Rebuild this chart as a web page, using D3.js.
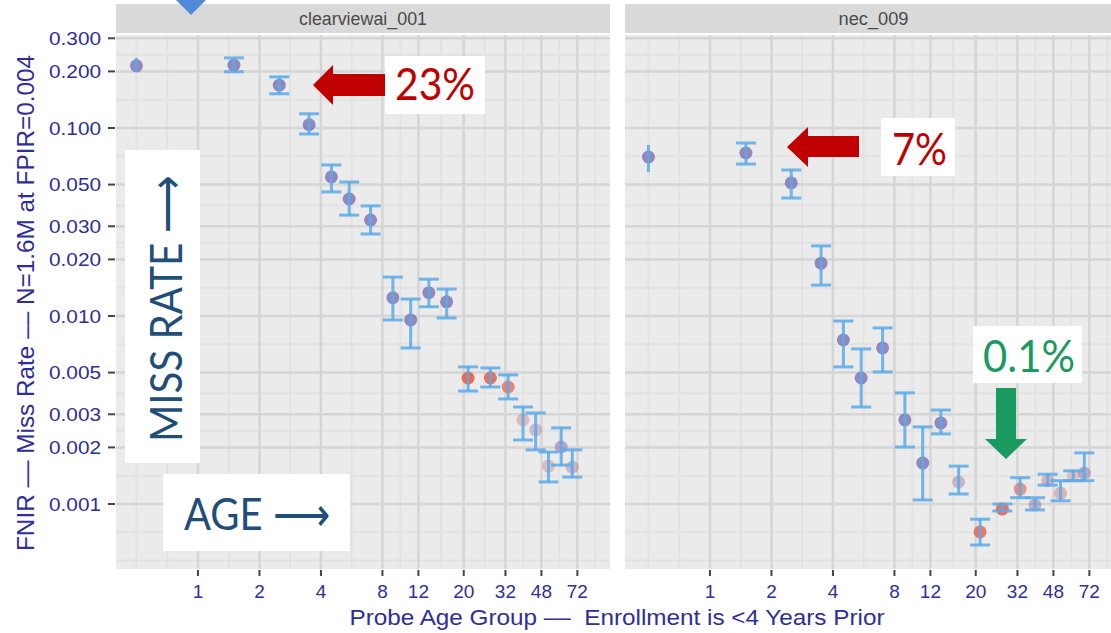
<!DOCTYPE html>
<html><head><meta charset="utf-8">
<script src="https://cdn.jsdelivr.net/npm/d3@7"></script>
<style>
body{margin:0;background:#fff}
svg{display:block}
text{white-space:pre}
</style>
</head><body>
<svg id="c" width="1111" height="633"></svg>
<script>
// ---------------- data ----------------
const panels = ["clearviewai_001", "nec_009"];
const ageGroups = [0.5, 1.5, 2.5, 3.5, 4.5, 5.5, 7, 9, 11, 13.5, 16.5, 21, 27, 33, 39, 45, 52, 60, 68];

const fnirClear = [0.214, 0.216, 0.169, 0.104, 0.0549, 0.0419, 0.0324, 0.0125, 0.00952, 0.0133, 0.0119, 0.00468, 0.00468, 0.00419, 0.0028, 0.00248, 0.00159, 0.00201, 0.00157];
const loClear   = [0.198, 0.199, 0.152, 0.0929, 0.0457, 0.0344, 0.0273, 0.00952, 0.00676, 0.0112, 0.00976, 0.00399, 0.00419, 0.00362, 0.00219, 0.00194, 0.00131, 0.00161, 0.00139];
const hiClear   = [0.236, 0.236, 0.187, 0.119, 0.0636, 0.0516, 0.0385, 0.0161, 0.0123, 0.0157, 0.0139, 0.00536, 0.00529, 0.00486, 0.00328, 0.00305, 0.00189, 0.00254, 0.00194];
const toneClear   = [0, 0, 0, 0, 0, 0, 0, 0, 0, 0, 0, 1, 0.85, 0.9, 0.7, 0.2, 0.6, 0.1, 0.3];
const weightClear = [0.75, 0.75, 0.75, 0.75, 0.75, 0.75, 0.75, 0.75, 0.75, 0.75, 0.75, 0.9, 0.85, 0.7, 0.35, 0.35, 0.35, 0.5, 0.4];

const fnirNec = [0.0701, 0.0736, 0.0510, 0.0191, 0.00745, 0.00468, 0.00676, 0.0028, 0.00165, 0.0027, 0.00131, 0.00071, 0.00094, 0.0012, 0.000988, 0.00133, 0.00114, 0.00141, 0.00146];
const loNec   = [0.0583, 0.0643, 0.0424, 0.0146, 0.00536, 0.00328, 0.00504, 0.00201, 0.00105, 0.00236, 0.00113, 0.000605, 0.000918, 0.00108, 0.00093, 0.00126, 0.00104, 0.00133, 0.00133];
const hiNec   = [0.0812, 0.0832, 0.0598, 0.0236, 0.0094, 0.00668, 0.00864, 0.0039, 0.00257, 0.00316, 0.00159, 0.00083, 0.001, 0.00138, 0.00108, 0.00144, 0.00133, 0.0015, 0.00187];
const toneNec   = [0, 0, 0, 0, 0, 0, 0, 0, 0, 0, 0.3, 0.9, 1, 0.8, 0.2, 0.6, 0.6, 0.7, 0.2];
const weightNec = [0.75, 0.75, 0.75, 0.75, 0.75, 0.75, 0.75, 0.75, 0.75, 0.75, 0.4, 0.8, 0.85, 0.6, 0.45, 0.4, 0.4, 0.3, 0.5];

const yTicks = [0.3, 0.2, 0.1, 0.05, 0.03, 0.02, 0.01, 0.005, 0.003, 0.002, 0.001];
const yTickLabels = ["0.300", "0.200", "0.100", "0.050", "0.030", "0.020", "0.010", "0.005", "0.003", "0.002", "0.001"];
const yHiddenBreaks = [0.0005];
const xTicks = [1, 2, 4, 8, 12, 20, 32, 48, 72];
const xTickLabels = ["1", "2", "4", "8", "12", "20", "32", "48", "72"];
const xHiddenBreaks = [0.5, 108];

const yTitle = "FNIR –– Miss Rate –– N=1.6M at FPIR=0.004";
const xTitle = "Probe Age Group ––  Enrollment is <4 Years Prior";

const series = [
  {panel: panels[0], fnir: fnirClear, lo: loClear, hi: hiClear, tone: toneClear, weight: weightClear},
  {panel: panels[1], fnir: fnirNec, lo: loNec, hi: hiNec, tone: toneNec, weight: weightNec}
];

// ---------------- layout ----------------
const svg = d3.select("#c");
const yTop = 35, yBot = 569;
const panelBoxes = [{x0: 116, x1: 610, r0: 116, r1: 610}, {x0: 625, x1: 1122, r0: 628, r1: 1122}];
const axisColor = "#2e2e9a";

const y = d3.scaleLog().domain([0.000451, 0.3123]).range([yBot, yTop]);

function geoMids(arr) {
  const s = arr.slice().sort((a, b) => a - b), out = [];
  for (let i = 0; i < s.length - 1; i++) out.push(Math.sqrt(s[i] * s[i + 1]));
  return out;
}
const yMinor = geoMids(yTicks.concat(yHiddenBreaks)).concat(yHiddenBreaks);
const xMinor = geoMids(xTicks.concat(xHiddenBreaks)).concat([0.5]);

const colorOf = d3.interpolateRgb("#7766ae", "#f15b3e");

series.forEach((s, pi) => {
  const b = panelBoxes[pi];
  const x = d3.scaleLog().base(2).domain([0.397, 104]).range([b.r0, b.r1]);
  const g = svg.append("g");
  const clipId = "clip" + pi;
  svg.append("clipPath").attr("id", clipId).append("rect")
    .attr("x", b.x0).attr("y", yTop).attr("width", b.x1 - b.x0).attr("height", yBot - yTop);

  // strip
  g.append("rect").attr("x", b.x0).attr("y", 4).attr("width", b.x1 - b.x0).attr("height", 29).attr("fill", "#d9d9d9");
  g.append("text").attr("x", (b.x0 + b.x1) / 2).attr("y", 25)
    .attr("text-anchor", "middle").attr("font-family", "Liberation Sans, Arial, sans-serif")
    .attr("font-size", 18).attr("fill", "#4a4a4a")
    .attr("textLength", pi === 0 ? 128 : 70).attr("lengthAdjust", "spacingAndGlyphs")
    .text(s.panel);

  // panel bg
  g.append("rect").attr("x", b.x0).attr("y", yTop).attr("width", b.x1 - b.x0).attr("height", yBot - yTop).attr("fill", "#ebebeb");

  const grid = g.append("g").attr("clip-path", `url(#${clipId})`);
  grid.selectAll(".hmin").data(yMinor).join("line")
    .attr("x1", b.x0).attr("x2", b.x1).attr("y1", d => y(d)).attr("y2", d => y(d))
    .attr("stroke", "#e2e2e2").attr("stroke-width", 2);
  grid.selectAll(".vmin").data(xMinor).join("line")
    .attr("y1", yTop).attr("y2", yBot).attr("x1", d => x(d)).attr("x2", d => x(d))
    .attr("stroke", "#e2e2e2").attr("stroke-width", 2);
  grid.selectAll(".hmaj").data(yTicks).join("line")
    .attr("x1", b.x0).attr("x2", b.x1).attr("y1", d => y(d)).attr("y2", d => y(d))
    .attr("stroke", "#d5d5d5").attr("stroke-width", 2.5);
  grid.selectAll(".vmaj").data(xTicks).join("line")
    .attr("y1", yTop).attr("y2", yBot).attr("x1", d => x(d)).attr("x2", d => x(d))
    .attr("stroke", "#d5d5d5").attr("stroke-width", 2.5);

  // points
  const pts = ageGroups.map((a, i) => ({a, v: s.fnir[i], lo: s.lo[i], hi: s.hi[i], t: s.tone[i], w: s.weight[i], i}));
  const mk = g.append("g").attr("clip-path", `url(#${clipId})`);
  mk.selectAll("circle").data(pts).join("circle")
    .attr("cx", d => x(d.a)).attr("cy", d => y(d.v)).attr("r", 6.5)
    .attr("fill", d => colorOf(d.t)).attr("fill-opacity", d => d.w);

  // error bars
  const eb = mk.append("g").attr("stroke", "#5aaae8").attr("stroke-opacity", 0.85).attr("stroke-width", 3).attr("fill", "none");
  eb.selectAll(".v").data(pts).join("line").attr("class", "v")
    .attr("x1", d => x(d.a)).attr("x2", d => x(d.a)).attr("y1", d => y(d.lo)).attr("y2", d => y(d.hi));
  const capped = pts.filter(d => d.i > 0); // first (open-ended) group has no caps
  eb.selectAll(".ct").data(capped).join("line").attr("class", "ct")
    .attr("x1", d => x(d.a) - 10).attr("x2", d => x(d.a) + 10).attr("y1", d => y(d.hi)).attr("y2", d => y(d.hi));
  eb.selectAll(".cb").data(capped).join("line").attr("class", "cb")
    .attr("x1", d => x(d.a) - 10).attr("x2", d => x(d.a) + 10).attr("y1", d => y(d.lo)).attr("y2", d => y(d.lo));

  // x axis
  const xa = g.append("g");
  xa.selectAll("line").data(xTicks).join("line")
    .attr("x1", d => x(d)).attr("x2", d => x(d)).attr("y1", yBot + 1).attr("y2", yBot + 7)
    .attr("stroke", "#444").attr("stroke-width", 2);
  xa.selectAll("text").data(xTicks).join("text")
    .attr("x", d => x(d)).attr("y", 598).attr("text-anchor", "middle")
    .attr("font-family", "Liberation Sans, Arial, sans-serif").attr("font-size", 19)
    .attr("fill", axisColor).text((d, i) => xTickLabels[i]);
});

// y axis (left panel only)
const ya = svg.append("g");
ya.selectAll("line").data(yTicks).join("line")
  .attr("x1", 108).attr("x2", 115).attr("y1", d => y(d)).attr("y2", d => y(d))
  .attr("stroke", "#444").attr("stroke-width", 2);
ya.selectAll("text").data(yTicks).join("text")
  .attr("x", 101).attr("y", d => y(d)).attr("dy", "0.36em").attr("text-anchor", "end")
  .attr("font-family", "Liberation Sans, Arial, sans-serif").attr("font-size", 19)
  .attr("fill", axisColor).attr("textLength", 52).attr("lengthAdjust", "spacingAndGlyphs")
  .text((d, i) => yTickLabels[i]);

// titles
svg.append("text").attr("transform", "translate(34,303) rotate(-90)")
  .attr("text-anchor", "middle").attr("font-family", "Liberation Sans, Arial, sans-serif")
  .attr("font-size", 24).attr("fill", axisColor)
  .attr("textLength", 496).attr("lengthAdjust", "spacingAndGlyphs").text(yTitle);
svg.append("text").attr("x", 617).attr("y", 625).attr("text-anchor", "middle")
  .attr("font-family", "Liberation Sans, Arial, sans-serif").attr("font-size", 22)
  .attr("fill", axisColor).attr("textLength", 535).attr("lengthAdjust", "spacingAndGlyphs").text(xTitle);

// ---------------- annotations ----------------
const ann = svg.append("g");
const annFont = "Lato, 'Open Sans', sans-serif";
ann.append("polygon").attr("points", "175,-1 207,-1 191,15").attr("fill", "#4f8bd9");

ann.append("rect").attr("x", 125).attr("y", 150).attr("width", 75).attr("height", 313).attr("fill", "#fff");
ann.append("text").attr("transform", "translate(182,442) rotate(-90)")
  .attr("font-family", annFont).attr("font-size", 44).attr("fill", "#1f4e79")
  .attr("textLength", 267).attr("lengthAdjust", "spacingAndGlyphs").text("MISS RATE ⟶");

ann.append("rect").attr("x", 163).attr("y", 474).attr("width", 187).attr("height", 77).attr("fill", "#fff");
ann.append("text").attr("x", 184).attr("y", 530)
  .attr("font-family", annFont).attr("font-size", 44).attr("fill", "#1f4e79")
  .attr("textLength", 146).attr("lengthAdjust", "spacingAndGlyphs").text("AGE ⟶");

ann.append("polygon").attr("points", "313,85 333,65 333,74 385,74 385,96 333,96 333,105").attr("fill", "#c00000");
ann.append("rect").attr("x", 385).attr("y", 56).attr("width", 100).attr("height", 58).attr("fill", "#fff");
ann.append("text").attr("x", 395).attr("y", 100)
  .attr("font-family", annFont).attr("font-size", 44).attr("fill", "#c00000")
  .attr("textLength", 80).attr("lengthAdjust", "spacingAndGlyphs").text("23%");

ann.append("polygon").attr("points", "787,147 808,127 808,136 859,136 859,157 808,157 808,167").attr("fill", "#c00000");
ann.append("rect").attr("x", 881).attr("y", 118).attr("width", 74).attr("height", 58).attr("fill", "#fff");
ann.append("text").attr("x", 892).attr("y", 165)
  .attr("font-family", annFont).attr("font-size", 44).attr("fill", "#c00000")
  .attr("textLength", 55).attr("lengthAdjust", "spacingAndGlyphs").text("7%");

ann.append("rect").attr("x", 973).attr("y", 326).attr("width", 109).attr("height", 57).attr("fill", "#fff");
ann.append("text").attr("x", 983).attr("y", 372)
  .attr("font-family", annFont).attr("font-size", 44).attr("fill", "#1a9a5f")
  .attr("textLength", 92).attr("lengthAdjust", "spacingAndGlyphs").text("0.1%");
ann.append("polygon").attr("points", "996,388 1016,388 1016,439 1027,439 1006,459 985,439 996,439").attr("fill", "#1a9a5f");
</script>
</body></html>
